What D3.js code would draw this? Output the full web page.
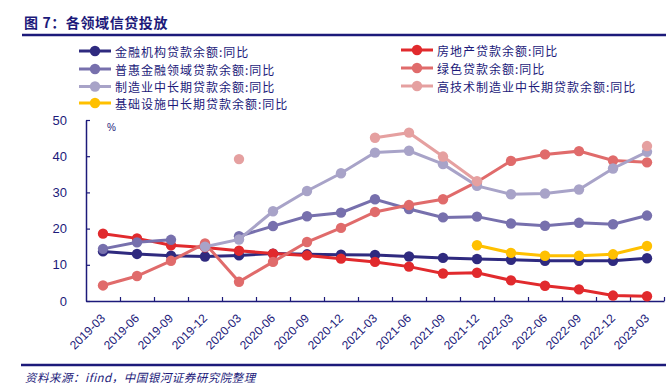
<!DOCTYPE html>
<html><head><meta charset="utf-8">
<script src="https://cdn.jsdelivr.net/npm/d3@7/dist/d3.min.js"></script>
<style>body{margin:0;background:#fff} svg{display:block}</style>
</head><body><svg id="c" width="666" height="383"></svg>
<script>
const categories = ["2019-03","2019-06","2019-09","2019-12","2020-03","2020-06","2020-09","2020-12","2021-03","2021-06","2021-09","2021-12","2022-03","2022-06","2022-09","2022-12","2023-03"];
const yTicks = [0,10,20,30,40,50];
const finInst   = [13.7,13.0,12.5,12.3,12.6,13.1,12.9,12.8,12.7,12.3,11.9,11.6,11.4,11.1,11.1,11.1,11.8];
const realEstate= [18.6,17.3,15.4,14.8,13.9,13.1,12.6,11.7,10.8,9.5,7.6,7.8,5.7,4.2,3.2,1.5,1.3];
const inclusive = [14.4,16.2,16.9,null,17.9,20.7,23.4,24.4,28.1,25.4,23.1,23.3,21.4,20.8,21.6,21.2,23.6];
const green     = [4.3,6.9,11.1,15.9,5.3,10.8,16.3,20.2,24.6,26.5,28.1,32.9,38.7,40.5,41.4,38.8,38.3];
const manuf     = [null,null,null,15.0,17.0,24.8,30.4,35.3,41.0,41.5,37.8,31.8,29.5,29.7,30.8,36.6,41.2];
const hiTech    = [null,null,null,null,39.2,null,null,null,45.1,46.5,39.9,33.1,null,null,null,null,42.8];
const infra     = [null,null,null,null,null,null,null,null,null,null,null,15.4,13.3,12.5,12.5,12.9,15.2];

const seriesNames = ["金融机构贷款余额:同比","房地产贷款余额:同比","普惠金融领域贷款余额:同比","绿色贷款余额:同比","制造业中长期贷款余额:同比","高技术制造业中长期贷款余额:同比","基础设施中长期贷款余额:同比"];
const seriesValues = [finInst, realEstate, inclusive, green, manuf, hiTech, infra];
const seriesColors = ["#2f2a7f","#e12a2d","#7770ad","#e06b6b","#a8a3c8","#e5a0a0","#ffc000"];

const navy = "#1c1a7a";
const svg = d3.select("#c");
const FONT = "'Liberation Sans', Arial, sans-serif";
const CJK = "'Noto Sans CJK SC', sans-serif";

// Title
svg.append("text").attr("x",24).attr("y",22).attr("dominant-baseline","central")
  .attr("font-family",CJK).attr("font-weight","bold").attr("font-size",14).attr("fill",navy)
  .attr("letter-spacing",0.6)
  .text("图 7：各领域信贷投放");
svg.append("line").attr("x1",22).attr("x2",666).attr("y1",35).attr("y2",35)
  .attr("stroke",navy).attr("stroke-width",2.5);

// Scales
const x = d3.scaleBand().domain(categories).range([86,664]);
const cx = d => x(d) + x.bandwidth()/2;
const y = d3.scaleLinear().domain([0,50]).range([301,120]);

// Y axis
const ya = svg.append("g").attr("transform","translate(86,0)")
  .call(d3.axisLeft(y).tickValues(yTicks).tickSizeInner(-4).tickSizeOuter(0).tickPadding(19));
ya.select(".domain").attr("stroke",navy).attr("stroke-width",1.5);
ya.selectAll(".tick line").attr("stroke",navy).attr("stroke-width",1.2);
ya.selectAll(".tick text").attr("font-family",FONT).attr("font-size",13).attr("fill",navy);

// X axis (ticks at band boundaries)
const xb = d3.scaleLinear().domain([0,categories.length]).range([86,664]);
const xa = svg.append("g").attr("transform","translate(0,301)")
  .call(d3.axisBottom(xb).tickValues(d3.range(1,categories.length+1)).tickSizeInner(-4).tickSizeOuter(0).tickFormat(""));
xa.select(".domain").attr("stroke",navy).attr("stroke-width",1.5);
xa.selectAll(".tick line").attr("stroke",navy).attr("stroke-width",1.2);
svg.append("g").selectAll("text").data(categories).join("text")
  .attr("transform",d=>`translate(${cx(d)+3},319) rotate(-45)`)
  .attr("text-anchor","end").attr("font-family",FONT).attr("font-size",12).attr("fill",navy)
  .text(d=>d);

svg.append("text").attr("x",107).attr("y",127).attr("dominant-baseline","central")
  .attr("font-family",FONT).attr("font-size",10).attr("fill",navy).text("%");

// Series
const line = d3.line().defined(d=>d.v!=null).x(d=>cx(d.c)).y(d=>y(d.v));
seriesValues.forEach((vals,i)=>{
  const pts = categories.map((c,j)=>({c, v: vals[j]}));
  const g = svg.append("g");
  g.append("path").datum(pts).attr("d",line).attr("fill","none")
    .attr("stroke",seriesColors[i]).attr("stroke-width",3);
  g.selectAll("circle").data(pts.filter(p=>p.v!=null)).join("circle")
    .attr("cx",p=>cx(p.c)).attr("cy",p=>y(p.v)).attr("r",5.2).attr("fill",seriesColors[i]);
});

// Legend
const legendPos = [
  {x:79,y:51},{x:401,y:50},
  {x:79,y:69},{x:401,y:68},
  {x:79,y:86.5},{x:401,y:86},
  {x:79,y:103}
];
seriesNames.forEach((name,i)=>{
  const p = legendPos[i];
  const g = svg.append("g");
  g.append("line").attr("x1",p.x).attr("x2",p.x+32).attr("y1",p.y).attr("y2",p.y)
    .attr("stroke",seriesColors[i]).attr("stroke-width",3);
  g.append("circle").attr("cx",p.x+16).attr("cy",p.y).attr("r",5.2).attr("fill",seriesColors[i]);
  g.append("text").attr("x",p.x+36).attr("y",p.y).attr("dominant-baseline","central")
    .attr("font-family",CJK).attr("font-size",12).attr("letter-spacing",1).attr("fill",navy).text(name);
});

// Footer
svg.append("line").attr("x1",21).attr("x2",666).attr("y1",365).attr("y2",365)
  .attr("stroke",navy).attr("stroke-width",2.5);
svg.append("text").attr("x",25).attr("y",376.5).attr("dominant-baseline","central")
  .attr("font-family",CJK).attr("font-style","italic").attr("font-size",11.5).attr("letter-spacing",0.5).attr("fill",navy)
  .text("资料来源：ifind，中国银河证券研究院整理");
</script>
</body></html>
